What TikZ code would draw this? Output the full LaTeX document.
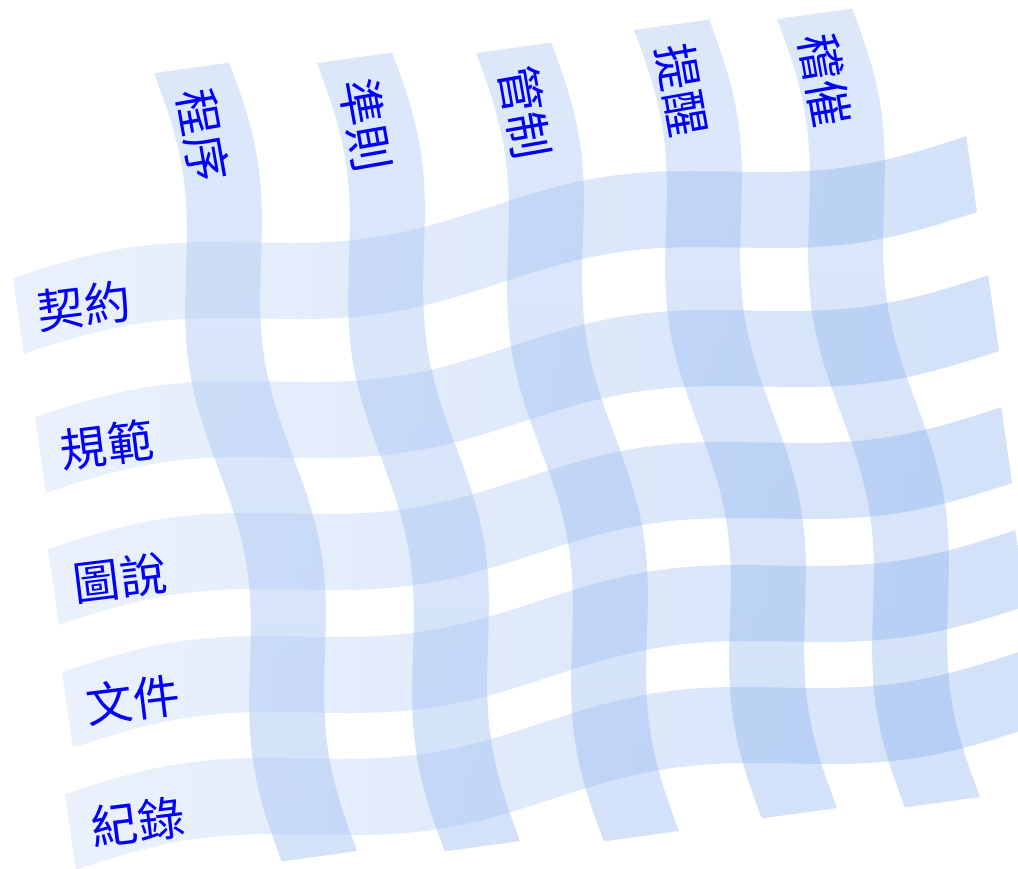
\documentclass[tikz,border=0pt]{standalone}
\usepackage{fontspec}
\newfontfamily\cjk{Noto Sans CJK TC}
\definecolor{ribbonblue}{RGB}{45,115,225}
\colorlet{rowL}{ribbonblue!32!white}
\colorlet{rowR}{ribbonblue!70!white}
\colorlet{colT}{ribbonblue!55!white}
\colorlet{colB}{ribbonblue!68!white}
\colorlet{labelblue}{blue}
\tikzset{
  rowband/.style={left color=rowL, right color=rowR, fill opacity=0.3},
  colband/.style={top color=colT, bottom color=colB, fill opacity=0.3},
  rowlabel/.style={text=labelblue, font=\cjk\fontsize{35}{34}\selectfont, rotate=7, inner sep=0pt},
  collabel/.style={text=labelblue, font=\cjk\fontsize{35}{34}\selectfont, rotate=-80, inner sep=0pt},
}
% horizontal waved ribbon, #1,#2 = top-left corner (pixels)
\newcommand{\hribbon}[2]{%
  \shade[rowband]
    plot[domain=0:1, samples=70, variable=\s]
      ({#1+954*\s+0.14723*(-13*sin(720*\s))}, {#2-142*\s+0.98912*(-13*sin(720*\s))})
    -- plot[domain=1:0, samples=70, variable=\s]
      ({#1+10+954*\s+0.14723*(-13*sin(720*\s))}, {#2+76-142*\s+0.98912*(-13*sin(720*\s))})
    -- cycle;}
% vertical waved ribbon, #1,#2 = top-left corner (pixels)
\newcommand{\vribbon}[2]{%
  \shade[colband]
    plot[domain=0:1, samples=70, variable=\s]
      ({#1+128*\s+0.98710*(12.5*sin(720*\s))}, {#2+789*\s-0.16014*(12.5*sin(720*\s))})
    -- plot[domain=1:0, samples=70, variable=\s]
      ({#1+75+128*\s+0.98710*(12.5*sin(720*\s))}, {#2-11+789*\s-0.16014*(12.5*sin(720*\s))})
    -- cycle;}
\begin{document}
\begin{tikzpicture}[x=0.75pt,y=-0.75pt]
\useasboundingbox (0,0) rectangle (1018,868);
\clip (0,0) rectangle (1018,868);
% columns
\vribbon{154}{73}
\vribbon{317}{63}
\vribbon{476}{53}
\vribbon{634}{30}
\vribbon{777}{19}
% rows
\hribbon{13}{278}
\hribbon{35}{417}
\hribbon{48}{549}
\hribbon{62}{672}
\hribbon{65}{794}
% row labels
\node[rowlabel] (r1) at (84,306) {契約};
\node[rowlabel] (r2) at (107,445) {規範};
\node[rowlabel] (r3) at (120,578) {圖說};
\node[rowlabel] (r4) at (133,700) {文件};
\node[rowlabel] (r5) at (138,822) {紀錄};
% column labels
\node[collabel] (c1) at (203,135) {程序};
\node[collabel] (c2) at (366,125) {準則};
\node[collabel] (c3) at (525,112) {管制};
\node[collabel] (c4) at (682,90) {提醒};
\node[collabel] (c5) at (825,80) {稽催};
\end{tikzpicture}
\end{document}
